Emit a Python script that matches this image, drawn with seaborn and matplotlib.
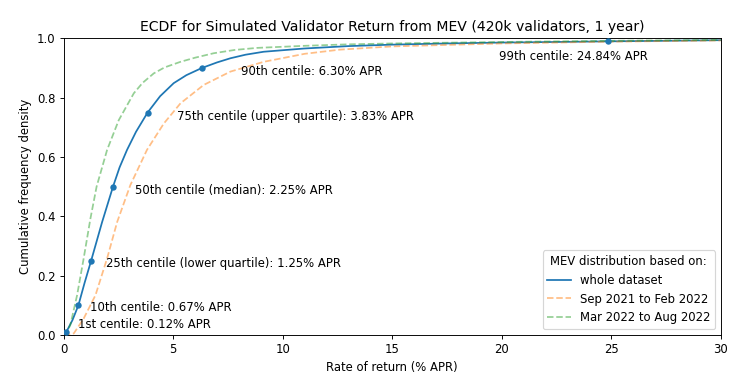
import pandas as pd
import matplotlib
matplotlib.use("Agg")
import matplotlib.pyplot as plt
import seaborn as sns

# =============================
# DATA
# =============================
# whole dataset ECDF
whole_x = [0, 0.12, 0.4, 0.67, 0.95, 1.25, 1.75, 2.25, 2.55, 2.89, 3.3, 3.83, 4.4, 5.02,
           5.6, 6.30, 7.0, 7.61, 8.3, 9.13, 11, 13, 15, 17.5, 20, 22.5, 24.84, 27.5, 30]
whole_y = [0, 0.01, 0.05, 0.10, 0.175, 0.25, 0.38, 0.50, 0.565, 0.624, 0.685, 0.75, 0.805, 0.849,
           0.876, 0.90, 0.919, 0.933, 0.945, 0.955, 0.966, 0.974, 0.979, 0.983, 0.986, 0.988,
           0.99, 0.992, 0.994]

# Sep 2021 to Feb 2022
sep_x = [0, 0.2, 0.46, 0.91, 1.45, 1.98, 2.44, 3.04, 3.8, 4.57, 5.33, 6.39, 7.61,
         9.13, 11, 12.6, 15, 20, 25, 30]
sep_y = [0, 0.0, 0.005, 0.055, 0.134, 0.258, 0.381, 0.505, 0.624, 0.713, 0.781, 0.843, 0.888,
         0.921, 0.948, 0.962, 0.973, 0.983, 0.989, 0.993]

# Mar 2022 to Aug 2022
mar_x = [0, 0.08, 0.30, 0.61, 0.91, 1.22, 1.50, 1.98, 2.51, 3.2, 3.6, 4.11, 4.6, 5.33,
         6.0, 6.85, 7.8, 8.83, 11, 13, 15, 20, 25, 30]
mar_y = [0, 0.0, 0.033, 0.134, 0.258, 0.393, 0.50, 0.624, 0.724, 0.815, 0.85, 0.882, 0.902, 0.921,
         0.935, 0.95, 0.961, 0.968, 0.975, 0.980, 0.983, 0.988, 0.992, 0.995]

# centile markers on the whole-dataset curve
centile_y = [0.01, 0.10, 0.25, 0.50, 0.75, 0.90, 0.99]
centile_x = [0.12, 0.67, 1.25, 2.25, 3.83, 6.30, 24.84]
centile_labels = [
    "1st centile: 0.12% APR",
    "10th centile: 0.67% APR",
    "25th centile (lower quartile): 1.25% APR",
    "50th centile (median): 2.25% APR",
    "75th centile (upper quartile): 3.83% APR",
    "90th centile: 6.30% APR",
    "99th centile: 24.84% APR",
]
# where each label sits (data coords)
label_x = [0.64, 1.19, 1.95, 3.24, 5.15, 8.08, 19.86]
label_y = [0.036, 0.091, 0.241, 0.486, 0.738, 0.89, 0.939]

# --------------------------------------
# PLOT
# --------------------------------------
DPI = 84
fig = plt.figure(figsize=(750 / DPI, 384 / DPI), dpi=DPI)
ax = fig.add_axes([0.085, 0.128, 0.876, 0.772])

sns.lineplot(x=whole_x, y=whole_y, ax=ax, color="C0", linewidth=1.5,
             sort=False, estimator=None, label="whole dataset")
sns.lineplot(x=sep_x, y=sep_y, ax=ax, color="C1", linewidth=1.5, alpha=0.5,
             sort=False, estimator=None, label="Sep 2021 to Feb 2022")
sns.lineplot(x=mar_x, y=mar_y, ax=ax, color="C2", linewidth=1.5, alpha=0.5,
             sort=False, estimator=None, label="Mar 2022 to Aug 2022")
ax.lines[1].set_linestyle("--")
ax.lines[2].set_linestyle("--")

sns.scatterplot(x=centile_x, y=centile_y, ax=ax, color="C0", s=30,
                linewidth=0, zorder=3)

for lx, ly, txt in zip(label_x, label_y, centile_labels):
    ax.text(lx, ly, txt, ha="left", va="center", fontsize=10)

ax.set_xlim(0, 30)
ax.set_ylim(0, 1)
ax.set_title("ECDF for Simulated Validator Return from MEV (420k validators, 1 year)",
             fontsize=12)
ax.set_xlabel("Rate of return (% APR)")
ax.set_ylabel("Cumulative frequency density")
ax.legend(title="MEV distribution based on:", loc="lower right")

fig.savefig("out.png", dpi=DPI)
